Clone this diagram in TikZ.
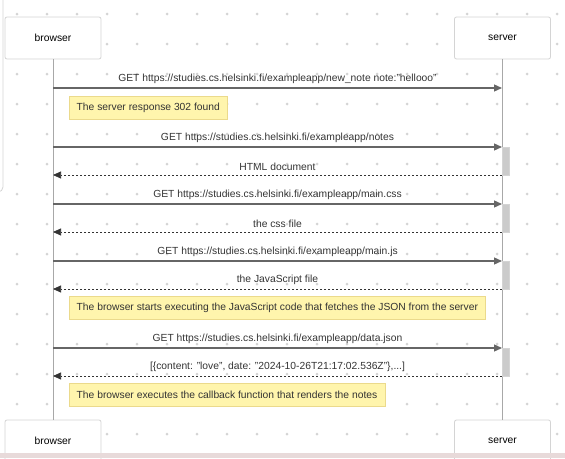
\documentclass[tikz,border=0pt]{standalone}
\usepackage{fontspec}
\setmainfont{Liberation Sans}
\usepackage{xcolor}
\usetikzlibrary{arrows.meta}
\definecolor{seqline}{HTML}{A8A8A8}
\definecolor{seqdark}{HTML}{333333}
\definecolor{seqdot}{HTML}{D4D4D4}
\definecolor{notefill}{HTML}{FFF5AD}
\definecolor{notedraw}{HTML}{EBDA8C}
\definecolor{bandpink}{HTML}{E8DADA}

\begin{document}
\begin{tikzpicture}[
    x=1pt, y=-1pt,
    actor/.style={draw=seqdot, fill=white, rounded corners=2pt, line width=0.8pt,
      minimum width=96pt, minimum height=42pt, font=\fontsize{10.3}{12}\selectfont},
    life/.style={draw=seqline, line width=1pt},
    call/.style={draw=seqdark!75, line width=1.3pt, -{Triangle[length=8pt,width=7pt]}},
    reply/.style={draw=seqdark, line width=0.7pt, dash pattern=on 2.5pt off 1.5pt,
      -{Triangle[length=8pt,width=7pt]}},
    lbl/.style={font=\fontsize{10.3}{12}\selectfont, text=seqdark, inner sep=0pt,
      anchor=south, yshift=4pt},
    note/.style={draw=notedraw, fill=notefill, anchor=north west, inner xsep=7.5pt,
      minimum height=23pt, font=\fontsize{10.3}{12}\selectfont, text=seqdark},
    act/.style={draw=seqdot, fill=seqline!60, minimum width=7pt, minimum height=28pt,
      inner sep=0pt},
  ]
  \useasboundingbox (0,0) rectangle (565,458);
  \clip (0,0) rectangle (565,458);

  % ---- dotted canvas
  \foreach \gx in {0,...,18}
    \foreach \gy in {0,...,14}
      \fill[seqdot] (17+30*\gx,14+30*\gy) circle (1.5pt);
  \draw[seqdot, line width=0.8pt, rounded corners=5pt] (3,-2) -- (3,192) -- (-3,192);

  % ---- participants
  \node[actor] (browserTop) at (53,38)    {browser};
  \node[actor] (serverTop)  at (502.5,38) {server};
  \node[actor] (browserBot) at (53,441)   {browser};
  \node[actor] (serverBot)  at (502.5,441) {server};
  \draw[life] (browserTop.south) -- (browserBot.north);
  \draw[life] (serverTop.south) -- (serverBot.north);

  % ---- activations on the server
  \node[act] (act1) at (505.5,161) {};
  \node[act] (act2) at (505.5,218) {};
  \node[act] (act3) at (505.5,275) {};
  \node[act] (act4) at (505.5,362) {};

  % ---- message levels on the two lifelines
  \foreach \m/\my in {1/88, 2/147, 3/175, 4/204, 5/232, 6/261, 7/289, 8/348, 9/376} {
    \coordinate (b\m) at (53,\my);
    \coordinate (s\m) at (502,\my);
  }

  \draw[call] (b1) -- (s1)
    node[midway, lbl] {GET https://studies.cs.helsinki.fi/exampleapp/new\_note note:"hellooo"};
  \node[note] (note1) at (69,96) {The server response 302 found};

  \draw[call] (b2) -- (s2)
    node[midway, lbl] {GET https://studies.cs.helsinki.fi/exampleapp/notes};
  \draw[reply] (s3) -- (b3) node[midway, lbl] {HTML document};

  \draw[call] (b4) -- (s4)
    node[midway, lbl] {GET https://studies.cs.helsinki.fi/exampleapp/main.css};
  \draw[reply] (s5) -- (b5) node[midway, lbl] {the css file};

  \draw[call] (b6) -- (s6)
    node[midway, lbl] {GET https://studies.cs.helsinki.fi/exampleapp/main.js};
  \draw[reply] (s7) -- (b7) node[midway, lbl] {the JavaScript file};
  \node[note] (note2) at (69,296)
    {The browser starts executing the JavaScript code that fetches the JSON from the server};

  \draw[call] (b8) -- (s8)
    node[midway, lbl] {GET https://studies.cs.helsinki.fi/exampleapp/data.json};
  \draw[reply] (s9) -- (b9)
    node[midway, lbl] {[\{content: "love", date: "2024-10-26T21:17:02.536Z"\},...]};
  \node[note] (note3) at (69,383) {The browser executes the callback function that renders the notes};

  % ---- page edge
  \fill[bandpink] (0,453) rectangle (565,458);
\end{tikzpicture}
\end{document}
